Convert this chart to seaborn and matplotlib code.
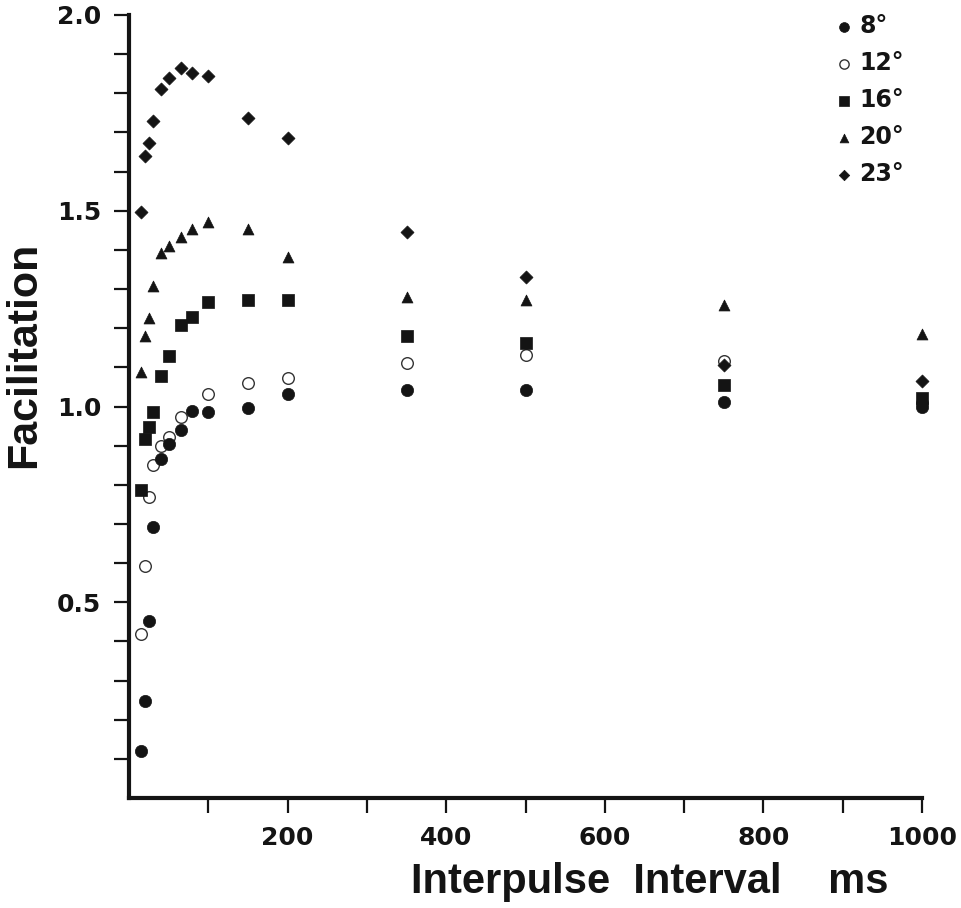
import numpy as np
import pandas as pd
import matplotlib
matplotlib.use("Agg")
import matplotlib.pyplot as plt
import seaborn as sns

# ---- data ----
intervals = [15, 20, 25, 30, 40, 50, 65, 80, 100, 150, 200, 350, 500, 750, 1000]
fac_8 = [0.12, 0.247, 0.452, 0.691, 0.867, 0.903, 0.941, 0.989, 0.986, 0.997, 1.032, 1.041, 1.041, 1.011, 1.000]
fac_12 = [0.42, 0.592, 0.770, 0.850, 0.900, 0.921, 0.972, np.nan, 1.033, 1.060, 1.072, 1.110, 1.131, 1.116, 1.010]
fac_16 = [0.786, 0.917, 0.947, 0.987, 1.079, 1.130, 1.209, 1.229, 1.266, 1.271, 1.271, 1.180, 1.163, 1.054, 1.021]
fac_20 = [1.088, 1.180, 1.226, 1.307, 1.393, 1.411, 1.432, 1.453, 1.471, 1.453, 1.381, 1.279, 1.272, 1.260, 1.186]
fac_23 = [1.498, 1.640, 1.674, 1.728, 1.810, 1.839, 1.865, 1.853, 1.843, 1.737, 1.686, 1.445, 1.332, 1.107, 1.066]

series_labels = ["8°", "12°", "16°", "20°", "23°"]
series_values = [fac_8, fac_12, fac_16, fac_20, fac_23]

x_tick_values = [100, 200, 300, 400, 500, 600, 700, 800, 900, 1000]
x_tick_labels = ["", "200", "", "400", "", "600", "", "800", "", "1000"]
y_tick_values = [round(v * 0.1, 1) for v in range(1, 21)]
y_tick_labels = ["0.5" if v == 0.5 else "1.0" if v == 1.0 else "1.5" if v == 1.5 else "2.0" if v == 2.0 else "" for v in y_tick_values]

rows = []
for lab, vals in zip(series_labels, series_values):
    for x, y in zip(intervals, vals):
        if not np.isnan(y):
            rows.append({"interval": x, "facilitation": y, "angle": lab})
df = pd.DataFrame(rows)

# ---- styling ----
sns.set_theme(style="white")
plt.rcParams["font.family"] = ["DejaVu Sans"]
ink = "#141414"

fig = plt.figure(figsize=(9.62, 9.08), dpi=100)
fig.patch.set_facecolor("white")
ax = fig.add_axes([129 / 962, 1 - 798 / 908, (922 - 129) / 962, (798 - 15) / 908])
ax.set_facecolor("white")

styles = {
    "8°":  dict(marker="o", s=78, color=ink, edgecolor=ink, linewidth=0.5),
    "12°": dict(marker="o", s=70, color="white", edgecolor="#333333", linewidth=1.0),
    "16°": dict(marker="s", s=66, color=ink, edgecolor=ink, linewidth=0.5),
    "20°": dict(marker="^", s=62, color=ink, edgecolor=ink, linewidth=0.5),
    "23°": dict(marker="D", s=44, color=ink, edgecolor=ink, linewidth=0.5),
}
zorders = {"8°": 5, "12°": 3, "16°": 4, "20°": 4, "23°": 4}

for lab in series_labels:
    sub = df[df["angle"] == lab]
    sns.scatterplot(data=sub, x="interval", y="facilitation", ax=ax, label=lab,
                    clip_on=False, zorder=zorders[lab], **styles[lab])

ax.set_xlim(0, 1000)
ax.set_ylim(0, 2.0)
ax.set_xticks(x_tick_values)
ax.set_xticklabels(x_tick_labels)
ax.set_yticks(y_tick_values)
ax.set_yticklabels(y_tick_labels)
ax.set_xlabel("")
ax.set_ylabel("")

for side in ["top", "right"]:
    ax.spines[side].set_visible(False)
for side in ["left", "bottom"]:
    ax.spines[side].set_linewidth(3.0)
    ax.spines[side].set_color(ink)

ax.tick_params(axis="both", which="major", direction="out", length=11, width=1.6,
               color=ink, labelcolor=ink, labelsize=18, pad=9,
               left=True, bottom=True)
for t in ax.get_xticklabels() + ax.get_yticklabels():
    t.set_fontweight("bold")

leg = ax.legend(loc="upper left", bbox_to_anchor=(837 / 962, 1 - 14 / 908),
                bbox_transform=fig.transFigure, frameon=False,
                prop={"weight": "bold", "size": 17, "family": "DejaVu Sans"},
                markerscale=0.8, handlelength=0.6, handletextpad=0.35,
                labelspacing=0.55, borderpad=0, borderaxespad=0)
for txt in leg.get_texts():
    txt.set_color(ink)

fig.text(24 / 962, 1 - 355 / 908, "Facilitation", rotation=90, ha="center", va="center",
         fontsize=31, fontweight="bold", color=ink, family=["Liberation Sans", "DejaVu Sans"])
fig.text(650 / 962, 1 - 882 / 908, "Interpulse  Interval    ms", ha="center", va="center",
         fontsize=30, fontweight="bold", color=ink,
         family=["Liberation Sans", "DejaVu Sans"])

fig.savefig("out.png", dpi=100, facecolor="white")
